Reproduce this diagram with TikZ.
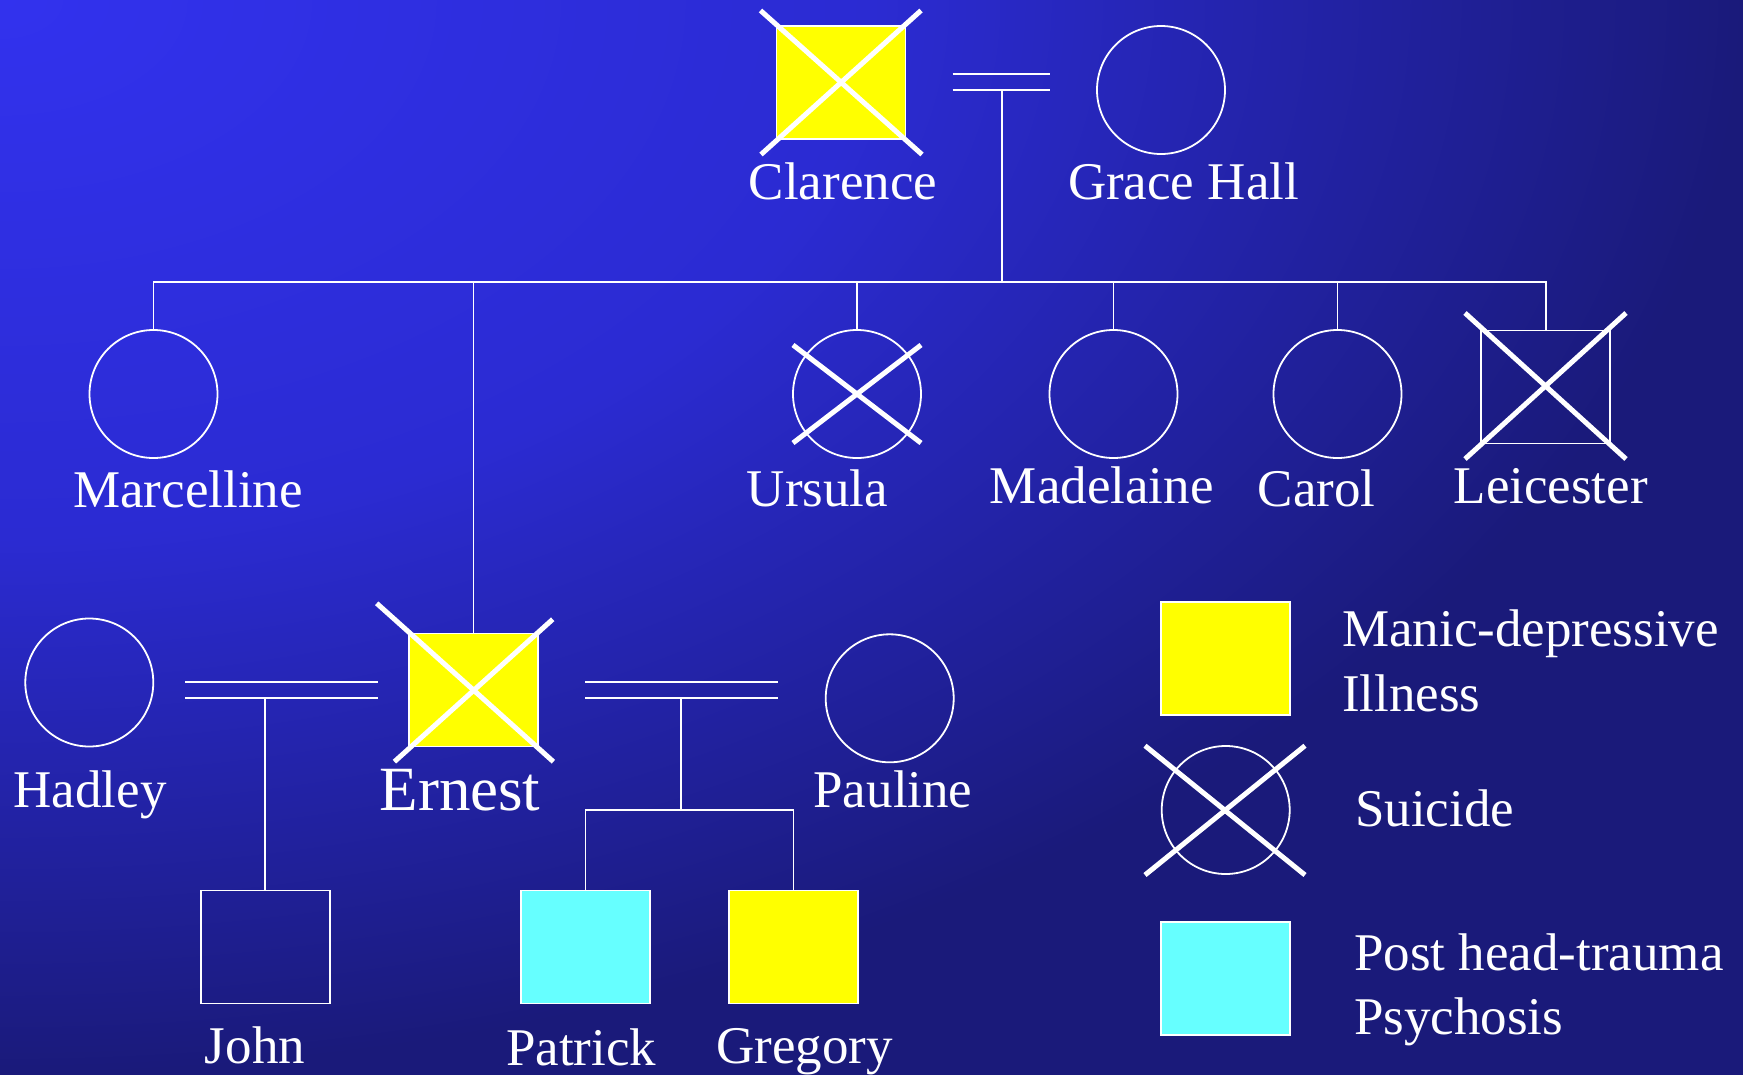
\documentclass[tikz,border=0pt]{standalone}
\usepackage{fontspec}
\setmainfont{Liberation Serif}
\definecolor{bgA}{RGB}{50,50,238}
\definecolor{bgM}{RGB}{43,43,210}
\definecolor{bgB}{RGB}{26,26,122}
\definecolor{ill}{RGB}{255,255,0}
\definecolor{trauma}{RGB}{102,255,255}
\pgfdeclareradialshading{bgshade}{\pgfpoint{0bp}{0bp}}{color(0bp)=(bgA); color(12.5bp)=(bgM); color(25bp)=(bgB); color(50bp)=(bgB)}
\begin{document}
\begin{tikzpicture}[x=1pt,y=-1pt,
  line/.style={draw=white, line width=1.8pt},
  male/.style={draw=white, line width=1.8pt, rectangle, minimum width=129pt, minimum height=113pt, inner sep=0pt},
  female/.style={draw=white, line width=1.8pt, circle, minimum size=128pt, inner sep=0pt},
  cross/.style={draw=white, line width=5pt},
  lbl/.style={text=white, font=\fontsize{53}{60}\selectfont, inner sep=0pt, anchor=base},
  leg/.style={lbl, anchor=base west},
]
\useasboundingbox (0,0) rectangle (1743,1074);
\begin{scope}
\clip (0,0) rectangle (1743,1074);
\shade[shading=bgshade] (-1743,-1074) rectangle (1743,1074);
\end{scope}

% persons
\node[male, fill=ill] (clarence) at (841,82.5) {};
\node[female] (grace) at (1161,90) {};
\node[female] (marcelline) at (153.5,394) {};
\node[female] (ursula) at (857,394) {};
\node[female] (madelaine) at (1113.5,394) {};
\node[female] (carol) at (1337.5,394) {};
\node[male] (leicester) at (1545.7,387) {};
\node[female] (hadley) at (89.3,682.5) {};
\node[male, fill=ill] (ernest) at (473.4,690) {};
\node[female] (pauline) at (889.7,698.3) {};
\node[male] (john) at (265.3,947) {};
\node[male, fill=trauma] (patrick) at (585.5,947) {};
\node[male, fill=ill] (gregory) at (793.4,947) {};

% legend symbols
\node[male, fill=ill] (legill) at (1225.7,658.3) {};
\node[female] (legsui) at (1225.7,810) {};
\node[male, fill=trauma] (legtra) at (1225.7,978.3) {};

% crosses
\draw[cross] ([shift={(-80.5,-72)}]clarence.center) -- ([shift={(81,72)}]clarence.center);
\draw[cross] ([shift={(80,-72)}]clarence.center) -- ([shift={(-80,72)}]clarence.center);
\draw[cross] ([shift={(-64,-49)}]ursula.center) -- ([shift={(64,49)}]ursula.center);
\draw[cross] ([shift={(64,-49)}]ursula.center) -- ([shift={(-64,49)}]ursula.center);
\draw[cross] ([shift={(-80.7,-74)}]leicester.center) -- ([shift={(80.3,72)}]leicester.center);
\draw[cross] ([shift={(80.3,-74)}]leicester.center) -- ([shift={(-80.7,72)}]leicester.center);
\draw[cross] ([shift={(-96.7,-86.7)}]ernest.center) -- ([shift={(80,71.7)}]ernest.center);
\draw[cross] ([shift={(79.3,-70.7)}]ernest.center) -- ([shift={(-79,71.7)}]ernest.center);
\draw[cross] ([shift={(-80.7,-64.3)}]legsui.center) -- ([shift={(79.3,65)}]legsui.center);
\draw[cross] ([shift={(79.3,-64.3)}]legsui.center) -- ([shift={(-80.7,65)}]legsui.center);

% marriage Clarence - Grace
\coordinate (m1a) at (952.6,74); \coordinate (m1b) at (1050.2,74);
\coordinate (m1c) at (952.6,90); \coordinate (m1d) at (1050.2,90);
\coordinate (m1) at (1002,90);
\coordinate (sib) at (1002,282);
\draw[line] (m1a) -- (m1b);
\draw[line] (m1c) -- (m1d);
\draw[line] (m1) -- (sib);
\draw[line] (marcelline.north) |- (sib) -| (leicester.north);
\draw[line] (ernest.north) -- (ernest.north |- sib);
\draw[line] (ursula.north) -- (ursula.north |- sib);
\draw[line] (madelaine.north) -- (madelaine.north |- sib);
\draw[line] (carol.north) -- (carol.north |- sib);

% marriage Hadley - Ernest
\coordinate (m2a) at (185,682.3); \coordinate (m2b) at (378,682.3);
\coordinate (m2c) at (185,698.3); \coordinate (m2d) at (378,698.3);
\coordinate (m2) at (265.3,698.3);
\draw[line] (m2a) -- (m2b);
\draw[line] (m2c) -- (m2d);
\draw[line] (m2) -- (john.north);

% marriage Ernest - Pauline
\coordinate (m3a) at (585,682.3); \coordinate (m3b) at (778,682.3);
\coordinate (m3c) at (585,698.3); \coordinate (m3d) at (778,698.3);
\coordinate (m3) at (681,698.3);
\coordinate (kids) at (681,810);
\draw[line] (m3a) -- (m3b);
\draw[line] (m3c) -- (m3d);
\draw[line] (m3) -- (kids);
\draw[line] (patrick.north) |- (kids) -| (gregory.north);

% labels
\node[lbl] (lclarence) at (843,199) {Clarence};
\node[lbl] (lgrace) at (1183.5,199) {Grace Hall};
\node[lbl] (lmarcelline) at (188,507) {Marcelline};
\node[lbl] (lursula) at (817.5,506) {Ursula};
\node[lbl] (lmadelaine) at (1101.8,503) {Madelaine};
\node[lbl] (lcarol) at (1316.8,506) {Carol};
\node[lbl] (lleicester) at (1550.7,503) {Leicester};
\node[lbl] (lhadley) at (90,807.7) {Hadley};
\node[lbl, font=\fontsize{63}{70}\selectfont] (lernest) at (460,810) {Ernest};
\node[lbl] (lpauline) at (893,807.7) {Pauline};
\node[lbl] (ljohn) at (255,1063) {John};
\node[lbl] (lpatrick) at (581.3,1065) {Patrick};
\node[lbl] (lgregory) at (804.5,1063) {Gregory};

\node[leg] (till1) at (1342,646.7) {Manic-depressive};
\node[leg] (till2) at (1342,711.7) {Illness};
\node[leg] (tsui) at (1355,826.7) {Suicide};
\node[leg] (ttra1) at (1354,970) {Post head-trauma};
\node[leg] (ttra2) at (1354,1034) {Psychosis};
\end{tikzpicture}
\end{document}
